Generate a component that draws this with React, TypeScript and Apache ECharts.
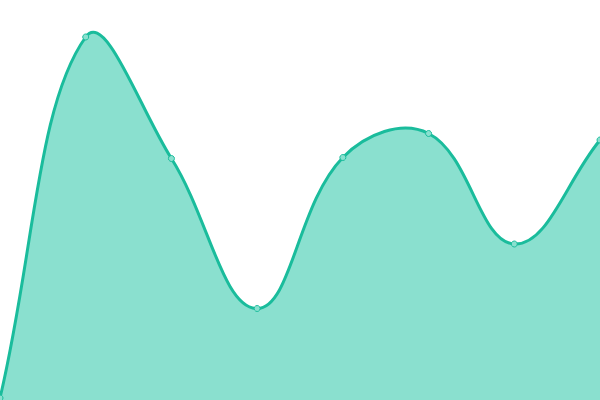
import React, { useEffect, useRef } from 'react';
import * as echarts from 'echarts';

const categories = ['A', 'B', 'C', 'D', 'E', 'F', 'G', 'H'];
const values = [2, 363, 241.5, 91.5, 242.5, 266.5, 156, 260];

const LINE = '#1abc9c';
const AREA = '#8ae0cf';
const TENSION = 0.4;

// cardinal-style spline (control points can overshoot the data points)
function buildPaths(pts: number[][], bottom: number, x0: number, x1: number, y0: number, y1: number) {
  const clampX = (v: number) => Math.min(Math.max(v, x0), x1);
  const clampY = (v: number) => Math.min(Math.max(v, y0), y1);
  const cps = pts.map((p, i) => {
    const prev = pts[i - 1] || p;
    const next = pts[i + 1] || p;
    const d01 = Math.hypot(p[0] - prev[0], p[1] - prev[1]);
    const d12 = Math.hypot(next[0] - p[0], next[1] - p[1]);
    let s01 = d01 / (d01 + d12);
    let s12 = d12 / (d01 + d12);
    if (isNaN(s01)) s01 = 0;
    if (isNaN(s12)) s12 = 0;
    const fa = TENSION * s01;
    const fb = TENSION * s12;
    return {
      prev: [clampX(p[0] - fa * (next[0] - prev[0])), clampY(p[1] - fa * (next[1] - prev[1]))],
      next: [clampX(p[0] + fb * (next[0] - prev[0])), clampY(p[1] + fb * (next[1] - prev[1]))]
    };
  });
  let d = `M${pts[0][0]},${pts[0][1]}`;
  for (let i = 1; i < pts.length; i++) {
    const a = cps[i - 1].next;
    const b = cps[i].prev;
    d += ` C${a[0]},${a[1]} ${b[0]},${b[1]} ${pts[i][0]},${pts[i][1]}`;
  }
  const last = pts[pts.length - 1];
  const area = `${d} L${last[0]},${bottom} L${pts[0][0]},${bottom} Z`;
  return { line: d, area };
}

export default function App() {
  const chartRef = useRef<HTMLDivElement>(null);

  useEffect(() => {
    if (!chartRef.current) return;
    const chart = echarts.init(chartRef.current, null, { renderer: 'svg' });

    chart.setOption({
      animation: false,
      grid: { left: 0, right: 0, top: 0, bottom: 0 },
      xAxis: {
        type: 'category',
        data: categories,
        boundaryGap: false,
        show: false
      },
      yAxis: {
        type: 'value',
        min: 0,
        max: 400,
        show: false
      },
      series: [
        {
          type: 'custom',
          data: values.map((v, i) => [i, v]),
          encode: { x: 0, y: 1 },
          clip: true,
          renderItem: (params: any, api: any) => {
            if (params.dataIndex !== 0) return null;
            const pts = values.map((v, i) => api.coord([i, v]));
            const bottom = api.coord([0, 0])[1];
            const cs = params.coordSys;
            const { line, area } = buildPaths(pts, bottom, cs.x, cs.x + cs.width, cs.y, cs.y + cs.height);
            return {
              type: 'group',
              children: [
                { type: 'path', shape: { pathData: area }, style: { fill: AREA, stroke: null } },
                { type: 'path', shape: { pathData: line }, style: { fill: null, stroke: LINE, lineWidth: 3 } }
              ]
            };
          }
        },
        {
          type: 'scatter',
          data: values.map((v, i) => [i, v]),
          symbol: 'circle',
          symbolSize: 6,
          z: 5,
          itemStyle: { color: AREA, borderColor: LINE, borderWidth: 1, opacity: 1 }
        }
      ]
    });

    return () => chart.dispose();
  }, []);

  return (
    <div
      ref={chartRef}
      style={{ position: 'fixed', left: 0, top: 0, width: 600, height: 400 }}
    />
  );
}
